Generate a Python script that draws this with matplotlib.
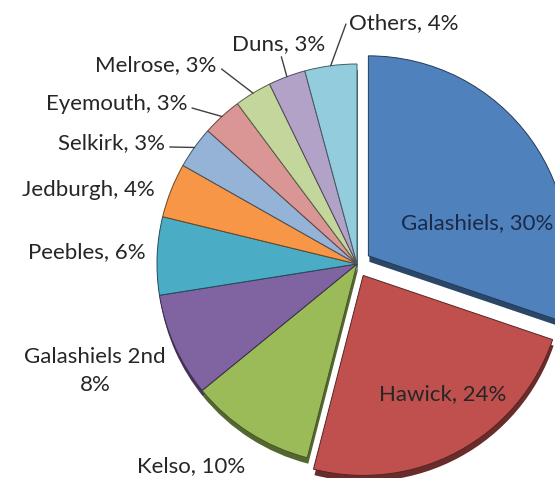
import numpy as np
import matplotlib
matplotlib.use("Agg")
import matplotlib.pyplot as plt
from matplotlib.colors import to_rgb

plt.rcParams['font.family'] = ['Lato', 'DejaVu Sans']

towns = ["Galashiels", "Hawick", "Kelso", "Galashiels 2nd", "Peebles", "Jedburgh",
         "Selkirk", "Eyemouth", "Melrose", "Duns", "Others"]
shares = [30.2, 23.8, 10.1, 8.4, 6.3, 4.4, 3.4, 3.2, 3.0, 3.0, 4.2]
colors = ["#4F81BD", "#C0504D", "#9BBB59", "#8064A2", "#4BACC6", "#F79646",
          "#95B3D7", "#D99694", "#C3D69B", "#B3A2C7", "#93CDDD"]
explode = [0.07, 0.065, 0, 0, 0, 0, 0, 0, 0, 0, 0]

W, H = 555, 478
cx, cy, R = 357, 264, 200   # pie centre / radius in pixels

fig = plt.figure(figsize=(W / 100, H / 100), dpi=100)
ax = fig.add_axes([0, 0, 1, 1])

# dark rim underneath to mimic the bevelled 3D look
dark = [tuple(c * 0.55 for c in to_rgb(col)) for col in colors]
edge = [tuple(c * 0.45 for c in to_rgb(col)) for col in colors]
rim, _ = ax.pie(shares, colors=dark, startangle=90, counterclock=False,
                explode=explode, radius=1, center=(0.005, -0.03),
                wedgeprops=dict(linewidth=0))
wedges, _ = ax.pie(shares, colors=colors, startangle=90, counterclock=False,
                   explode=explode, radius=1,
                   wedgeprops=dict(linewidth=0.7))
for w, e in zip(wedges, edge):
    w.set_edgecolor(e)
ax.set_xlim(-cx / R, (W - cx) / R)
ax.set_ylim(-(H - cy) / R, cy / R)
ax.set_aspect('auto')

def px(x, y):
    return ((x - cx) / R, (cy - y) / R)

# label layout: (pixel x, pixel y, leader relpos)
layout = {
    "Galashiels": (477, 223, None),
    "Hawick": (443, 394, None),
    "Kelso": (191, 466, None),
    "Galashiels 2nd": (95, 371, None),
    "Peebles": (87, 252, None),
    "Jedburgh": (88, 190, None),
    "Selkirk": (112, 143, (1.04, 0.3)),
    "Eyemouth": (117, 104, (1.03, 0.3)),
    "Melrose": (156, 65, (1.04, 0.3)),
    "Duns": (279, 44, (0.52, -0.05)),
    "Others": (404, 23, (-0.03, 0.45)),
}

for w, name, s in zip(wedges, towns, shares):
    x, y, rel = layout[name]
    if name == "Galashiels 2nd":
        txt = f"{name}\n{round(s)}%"
    else:
        txt = f"{name}, {round(s)}%"
    col = "#1B2A48" if name == "Galashiels" else "#262626"
    tx, ty = px(x, y)
    if rel is None:
        ax.text(tx, ty, txt, ha="center", va="center", fontsize=16,
                color=col, linespacing=1.45)
    else:
        mid = np.deg2rad((w.theta1 + w.theta2) / 2)
        ex, ey = w.center[0] + np.cos(mid), w.center[1] + np.sin(mid)
        ax.annotate(txt, xy=(ex, ey), xytext=(tx, ty), ha="center", va="center",
                    fontsize=16, color=col,
                    arrowprops=dict(arrowstyle="-", color="#404040", lw=1.0,
                                    shrinkA=0, shrinkB=0, relpos=rel))

fig.savefig("out.png", dpi=100, facecolor="white")
